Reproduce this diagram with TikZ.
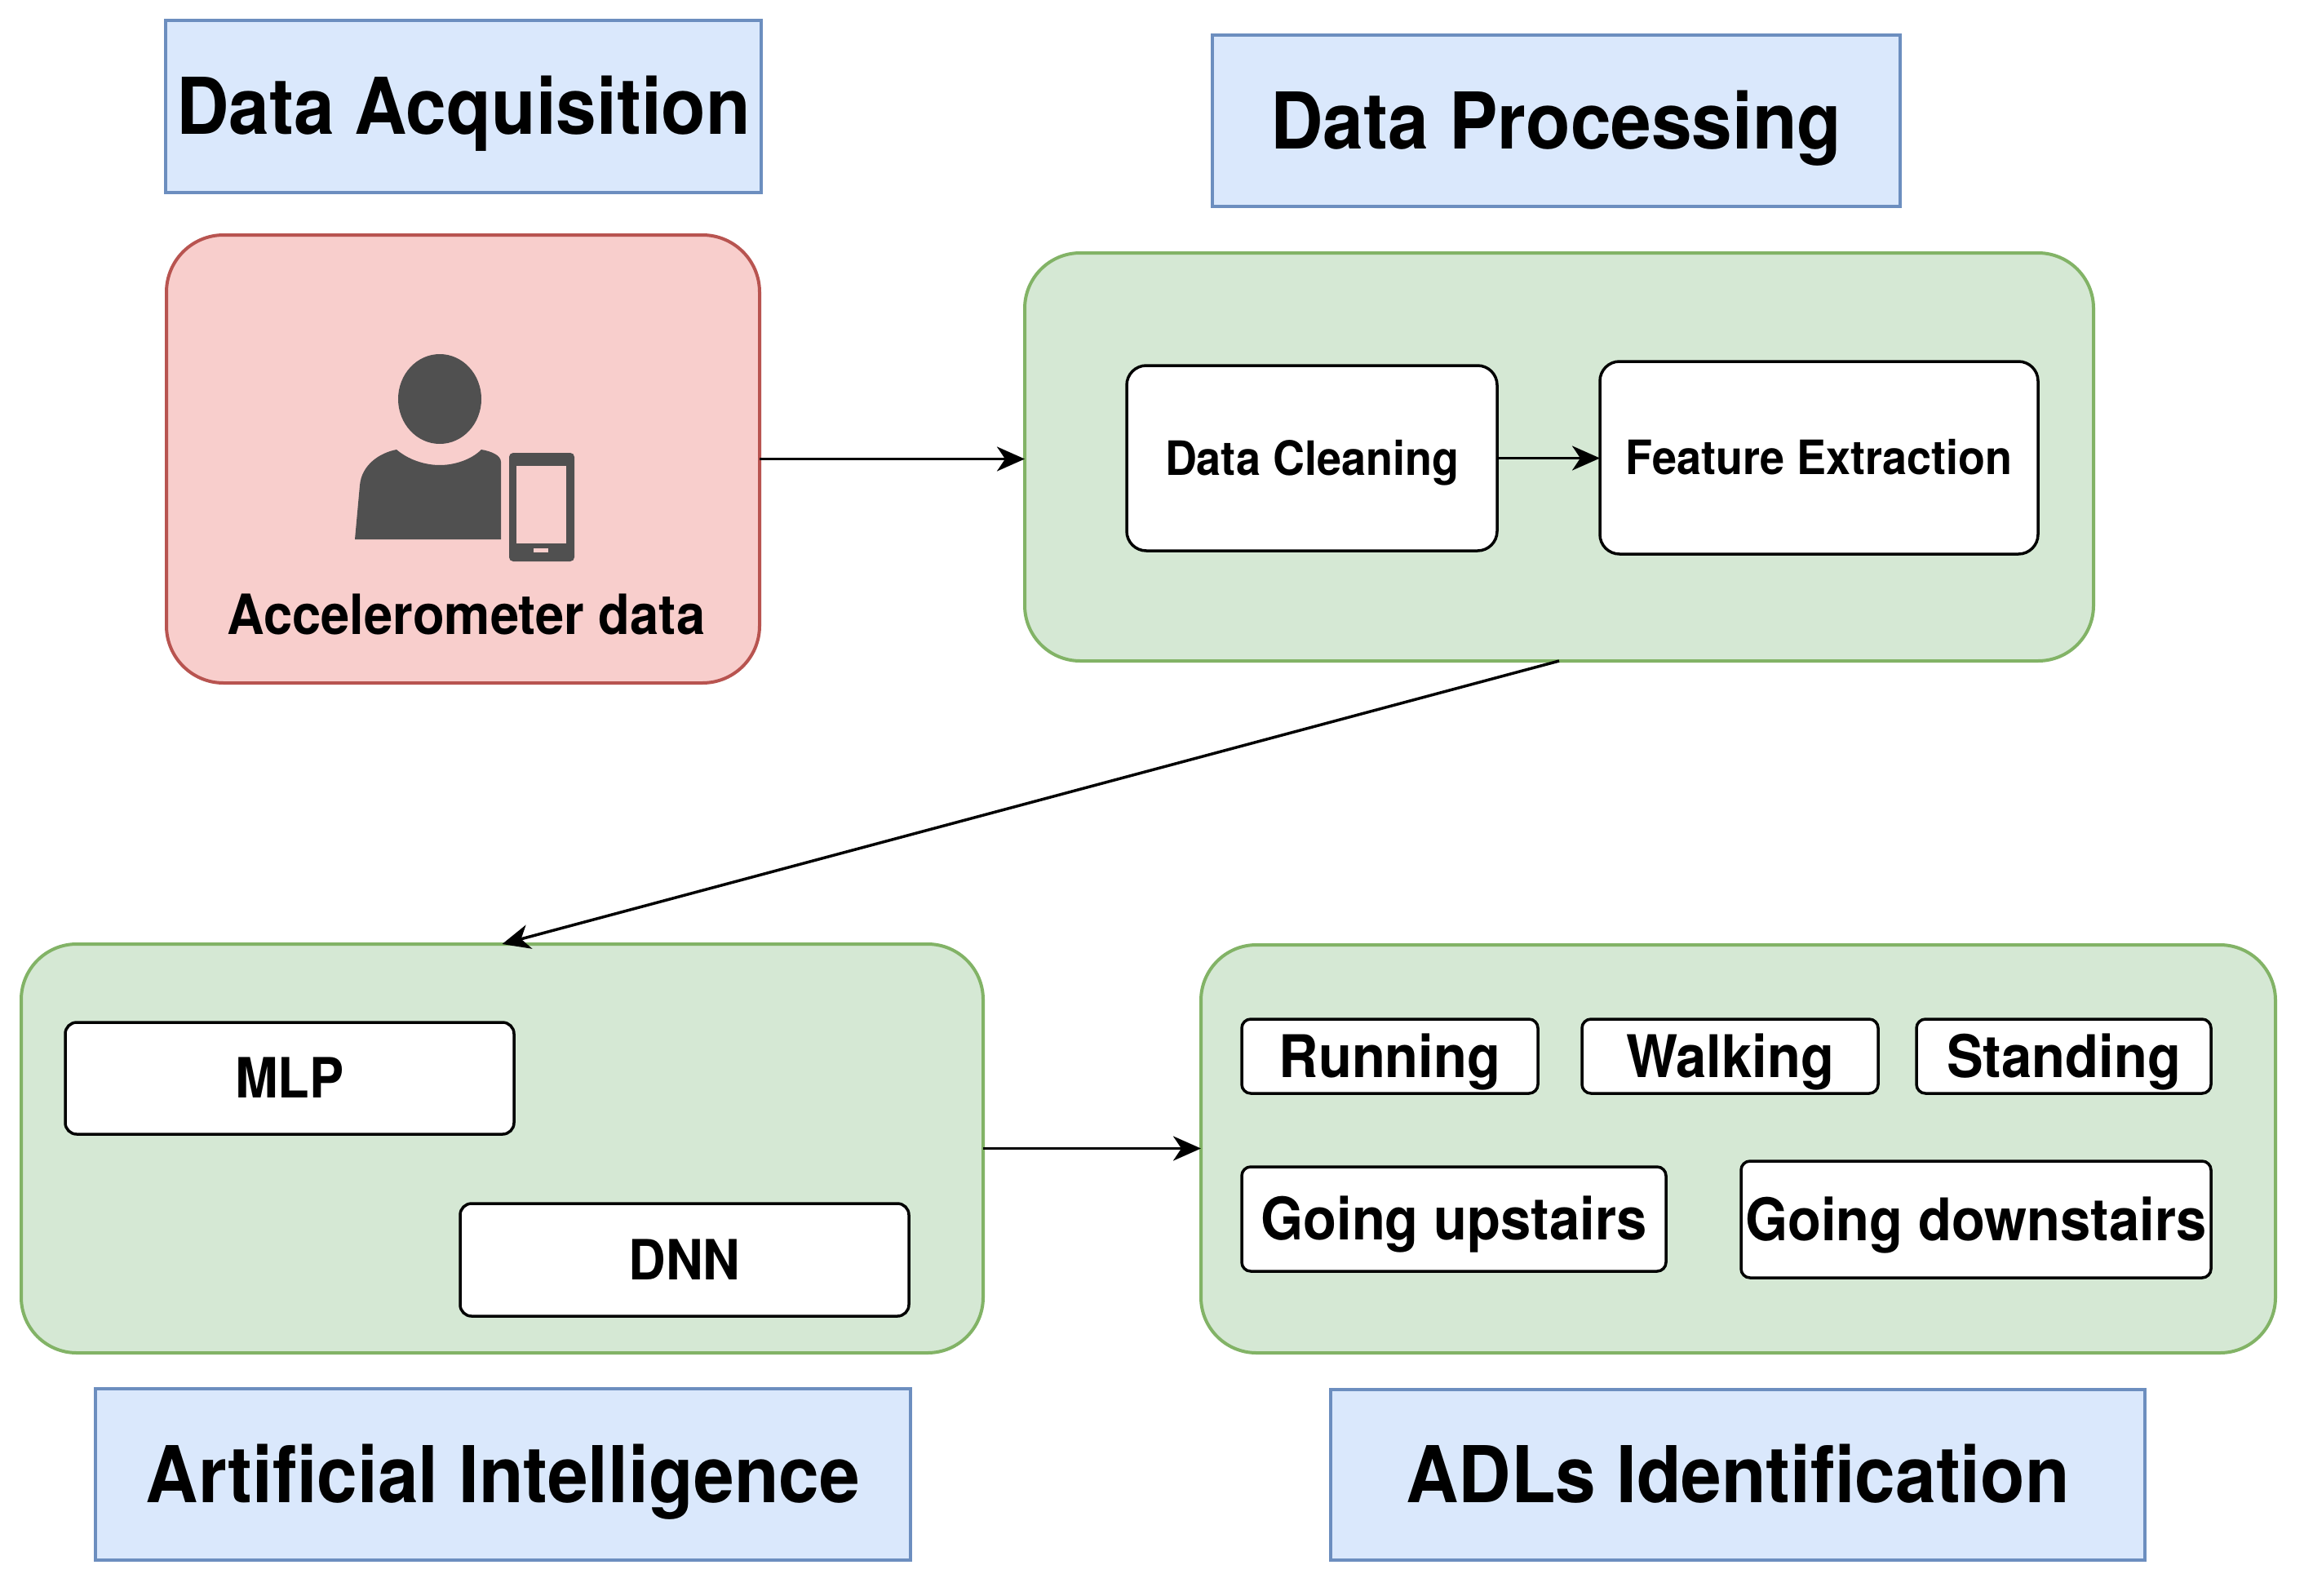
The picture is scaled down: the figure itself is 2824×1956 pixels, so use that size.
\documentclass[tikz,border=0pt]{standalone}
\usepackage{fontspec}
\newfontfamily\hv[FakeStretch=0.93,BoldFeatures={FakeStretch=0.93}]{TeX Gyre Heros}
\usetikzlibrary{arrows.meta}
\definecolor{tfill}{HTML}{DAE8FC}
\definecolor{tdraw}{HTML}{6C8EBF}
\definecolor{rfill}{HTML}{F8CECC}
\definecolor{rdraw}{HTML}{B85450}
\definecolor{gfill}{HTML}{D5E8D4}
\definecolor{gdraw}{HTML}{82B366}
\definecolor{icon}{HTML}{505050}
\tikzset{
  base/.style={inner sep=0pt, outer sep=0pt, align=center, text depth=0pt},
  titlebox/.style={base, rectangle, draw=tdraw, fill=tfill, line width=4pt,
    font=\hv\bfseries\fontsize{96pt}{100pt}\selectfont, text height=68.7pt},
  greenbox/.style={base, rectangle, draw=gdraw, fill=gfill, line width=4pt, rounded corners=68pt},
  redbox/.style={base, rectangle, draw=rdraw, fill=rfill, line width=4pt, rounded corners=70pt},
  procbox/.style={base, rectangle, draw=black, fill=white, line width=3.5pt, rounded corners=24pt,
    font=\hv\bfseries\fontsize{58pt}{62pt}\selectfont, text height=41.5pt},
  modelbox/.style={base, rectangle, draw=black, fill=white, line width=3.5pt, rounded corners=14pt,
    font=\hv\bfseries\fontsize{68pt}{72pt}\selectfont, text height=48.7pt},
  actbox/.style={base, rectangle, draw=black, fill=white, line width=3.5pt, rounded corners=11pt,
    font=\hv\bfseries\fontsize{72pt}{76pt}\selectfont, text height=51.5pt},
  lbl/.style={base, font=\hv\bfseries\fontsize{68pt}{72pt}\selectfont, text height=48.7pt},
  arr/.style={line width=3.5pt, -{Stealth[length=34pt,width=30pt,inset=10pt]}},
}
\begin{document}
\begin{tikzpicture}[x=1pt,y=-1pt]
\useasboundingbox (0,0) rectangle (2824,1956);
\fill[white] (0,0) rectangle (2824,1956);

% Data Acquisition
\node[titlebox, minimum width=730pt, minimum height=211pt] (tA) at (568,130.5) {Data Acquisition};
\node[redbox, minimum width=727pt, minimum height=549pt] (acc) at (567.5,562.5) {};
% icon
\fill[icon] (539,489) ellipse [x radius=51, y radius=55];
\fill[icon] (435,661) -- (441,595) .. controls (443,570) and (465,555) .. (486,551)
  .. controls (500,563) and (520,570) .. (539,570)
  .. controls (558,570) and (578,563) .. (590,551)
  .. controls (602,553) and (614,558) .. (614,566) -- (614,661) -- cycle;
\fill[icon, rounded corners=5pt] (624,555) rectangle (704,688);
\fill[rfill] (633,571) rectangle (694,666);
\fill[rfill] (654,672) rectangle (672,677);
\node[lbl] (acclabel) at (571.5,753) {Accelerometer data};

% Data Processing
\node[titlebox, minimum width=843pt, minimum height=210pt] (tP) at (1907.5,148) {Data Processing};
\node[greenbox, minimum width=1310pt, minimum height=500pt] (dp) at (1911,560) {};
\node[procbox, minimum width=454pt, minimum height=227pt] (dc) at (1608,561.5) {Data Cleaning};
\node[procbox, minimum width=537pt, minimum height=236pt] (fe) at (2229.5,561) {Feature Extraction};

% Artificial Intelligence
\node[greenbox, minimum width=1179pt, minimum height=501pt] (ai) at (615.5,1407.5) {};
\node[modelbox, minimum width=550pt, minimum height=137pt] (mlp) at (355,1321.5) {MLP};
\node[modelbox, minimum width=550pt, minimum height=138pt] (dnn) at (839,1544) {DNN};
\node[titlebox, minimum width=999pt, minimum height=210pt] (tI) at (616.5,1807) {Artificial Intelligence};

% ADLs Identification
\node[greenbox, minimum width=1317pt, minimum height=500pt] (adl) at (2130.5,1408) {};
\node[actbox, minimum width=363pt, minimum height=91pt] (run) at (1703.5,1294.5) {Running};
\node[actbox, minimum width=363pt, minimum height=91pt] (walk) at (2120.5,1294.5) {Walking};
\node[actbox, minimum width=361pt, minimum height=91pt] (stand) at (2529.5,1294.5) {Standing};
\node[actbox, minimum width=520pt, minimum height=128pt] (up) at (1782,1494) {Going upstairs};
\node[actbox, minimum width=576pt, minimum height=143pt] (down) at (2422,1494.5) {Going downstairs};
\node[titlebox, minimum width=998pt, minimum height=209pt] (tL) at (2130,1807.5) {ADLs Identification};

% connectors
\draw[arr] (acc.east) -- (acc.east -| dp.west);
\draw[arr] (dc.east) -- (dc.east -| fe.west);
\draw[arr] (dp.south) -- (ai.north);
\draw[arr] (ai.east) -- (ai.east -| adl.west);
\end{tikzpicture}
\end{document}
